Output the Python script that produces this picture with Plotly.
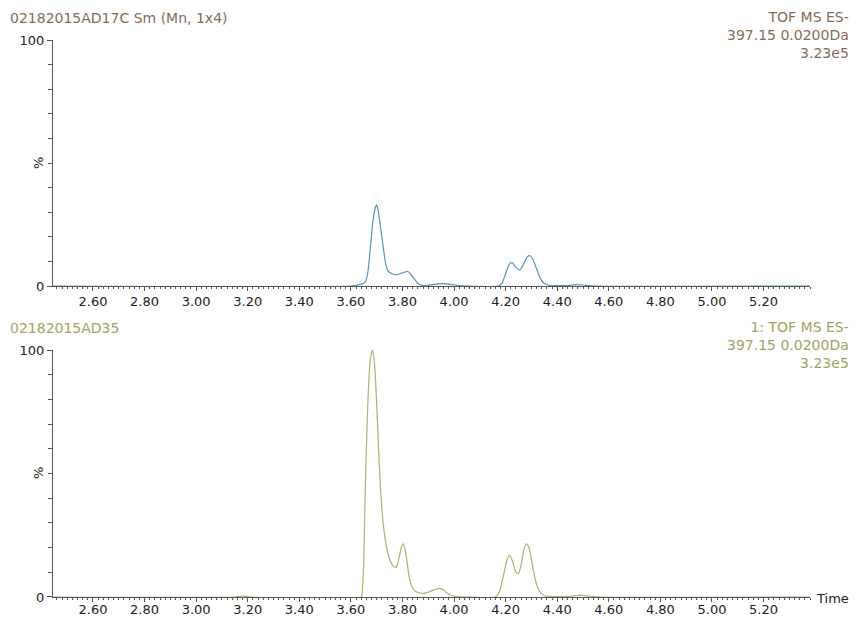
import plotly.graph_objects as go

# ---- data (retention time in min, relative intensity %) ----
top_time = [2.445, 3.600, 3.630, 3.655, 3.665, 3.675, 3.685, 3.695, 3.700, 3.705, 3.715,
            3.725, 3.735, 3.745, 3.760, 3.775, 3.790, 3.805, 3.820, 3.830, 3.845, 3.860,
            3.875, 3.900, 3.930, 3.960, 3.990, 4.020, 4.050, 4.170, 4.185, 4.200, 4.215,
            4.225, 4.240, 4.255, 4.270, 4.285, 4.295, 4.305, 4.320, 4.335, 4.350, 4.370,
            4.400, 4.450, 4.480, 4.510, 4.550, 5.380]
top_int = [0, 0, 0.5, 1.5, 5, 15, 26, 32, 33, 31, 24,
           16, 9, 6, 5, 4.5, 5, 5.5, 6, 5, 3, 1,
           0.3, 0.3, 0.8, 1, 0.6, 0.2, 0, 0, 1, 5, 9,
           9.5, 7.5, 6.5, 9, 12, 12.3, 11, 7, 3, 1, 0.3,
           0.2, 0.3, 0.6, 0.3, 0, 0]

bot_time = [2.445, 3.150, 3.180, 3.210, 3.640, 3.645, 3.650, 3.655, 3.660, 3.667, 3.675,
            3.684, 3.692, 3.700, 3.708, 3.716, 3.725, 3.735, 3.745, 3.755, 3.765, 3.775,
            3.785, 3.795, 3.802, 3.810, 3.818, 3.826, 3.835, 3.845, 3.860, 3.880, 3.900,
            3.920, 3.940, 3.955, 3.970, 3.990, 4.010, 4.050, 4.160, 4.175, 4.190, 4.205,
            4.215, 4.225, 4.240, 4.250, 4.260, 4.270, 4.280, 4.290, 4.300, 4.315, 4.330,
            4.350, 4.380, 4.450, 4.490, 4.530, 4.570, 5.380]
bot_int = [0, 0, 0.4, 0, 0, 4, 15, 40, 60, 82, 96,
           100, 94, 78, 58, 42, 30, 22, 17, 14, 12.5, 12,
           15, 20, 21.5, 19.5, 14, 8, 4.5, 2.8, 1.8, 1.5, 2,
           2.8, 3.5, 3.2, 1.8, 0.6, 0.2, 0, 0, 2, 8, 15,
           17, 15, 10, 9.5, 13, 19, 21.5, 20, 15, 7, 2.5,
           0.5, 0.2, 0.3, 0.8, 0.3, 0, 0]

x_range = [2.445, 5.38]
y_range = [0, 100]
y_tick_vals = [0, 100]
y_tick_text = ["0", "100"]

top_left = "02182015AD17C Sm (Mn, 1x4)"
top_right = "TOF MS ES-<br>397.15 0.0200Da<br>3.23e5"
bot_left = "02182015AD35"
bot_right = "1: TOF MS ES-<br>397.15 0.0200Da<br>3.23e5"

TOP_COLOR = "#4f97bf"
BOT_COLOR = "#b2b26a"
TOP_TXT = "#8a6a55"
BOT_TXT = "#a3a35e"
AX = "#555555"
FONT = "DejaVu Sans"

fig = go.Figure()
fig.add_trace(go.Scatter(x=top_time, y=top_int, mode="lines",
                         line=dict(color=TOP_COLOR, width=1.2, shape="spline", smoothing=0.6),
                         xaxis="x", yaxis="y", showlegend=False, hoverinfo="skip"))
fig.add_trace(go.Scatter(x=bot_time, y=bot_int, mode="lines",
                         line=dict(color=BOT_COLOR, width=1.2, shape="spline", smoothing=0.6),
                         xaxis="x2", yaxis="y2", showlegend=False, hoverinfo="skip"))

def xax(anchor, standoff):
    return dict(range=x_range, domain=[0, 1], anchor=anchor, showgrid=False, zeroline=False,
                automargin=False,
                showline=True, linecolor=AX, linewidth=1, ticks="outside", ticklen=4,
                tickcolor=AX, tick0=2.6, dtick=0.2, tickformat=".2f",
                ticklabelstandoff=standoff,
                tickfont=dict(family=FONT, size=13, color="#222"),
                minor=dict(ticks="outside", ticklen=2, tickcolor=AX, dtick=0.02, tick0=2.6,
                           showgrid=False))

def yax(anchor, dom):
    return dict(range=y_range, domain=dom, anchor=anchor, showgrid=False, zeroline=False,
                automargin=False,
                showline=True, linecolor=AX, linewidth=1, ticks="outside", ticklen=5,
                tickcolor=AX, tickvals=y_tick_vals, ticktext=y_tick_text,
                tickfont=dict(family=FONT, size=13, color="#222"),
                minor=dict(ticks="outside", ticklen=4, tickcolor=AX,
                           tickvals=[10, 20, 30, 40, 50, 60, 70, 80, 90], showgrid=False))

# page body has an 8px margin: figure is placed at (8,8)
fig.update_layout(
    width=844, height=611,
    margin=dict(l=45, r=42, t=32, b=22, autoexpand=False),
    paper_bgcolor="white", plot_bgcolor="white",
    font=dict(family=FONT, size=13),
    xaxis=xax("y", -1), yaxis=yax("x", [0.5583, 1.0]),
    xaxis2=xax("y2", -4), yaxis2=yax("x2", [0.0, 0.4434]),
)

ann = []
def add(text, x, y, color, xanchor="left", yanchor="top", align="left", angle=0, size=14):
    ann.append(dict(text=text, x=x, y=y, xref="paper", yref="paper", showarrow=False,
                    xanchor=xanchor, yanchor=yanchor, align=align, textangle=angle,
                    font=dict(family=FONT, size=size, color=color)))

# screen coords -> paper: x -> (x-53)/757 ; y -> (597-y)/557
def px(xp):
    return (xp - 53) / 757.0
def py(yp):
    return (597 - yp) / 557.0

add(top_left, px(8), py(8), TOP_TXT)
add(top_right, px(851), py(7), TOP_TXT, xanchor="right", align="right")
add(bot_left, px(8), py(318), BOT_TXT)
add(bot_right, px(851), py(317), BOT_TXT, xanchor="right", align="right")
add("%", px(38), py(163), "#222", xanchor="center", yanchor="middle", angle=-90, size=13)
add("%", px(38), py(473), "#222", xanchor="center", yanchor="middle", angle=-90, size=13)
add("Time", px(814), py(598), "#222", xanchor="left", yanchor="middle", size=13)
fig.update_layout(annotations=ann)

fig.write_html("out.html")
